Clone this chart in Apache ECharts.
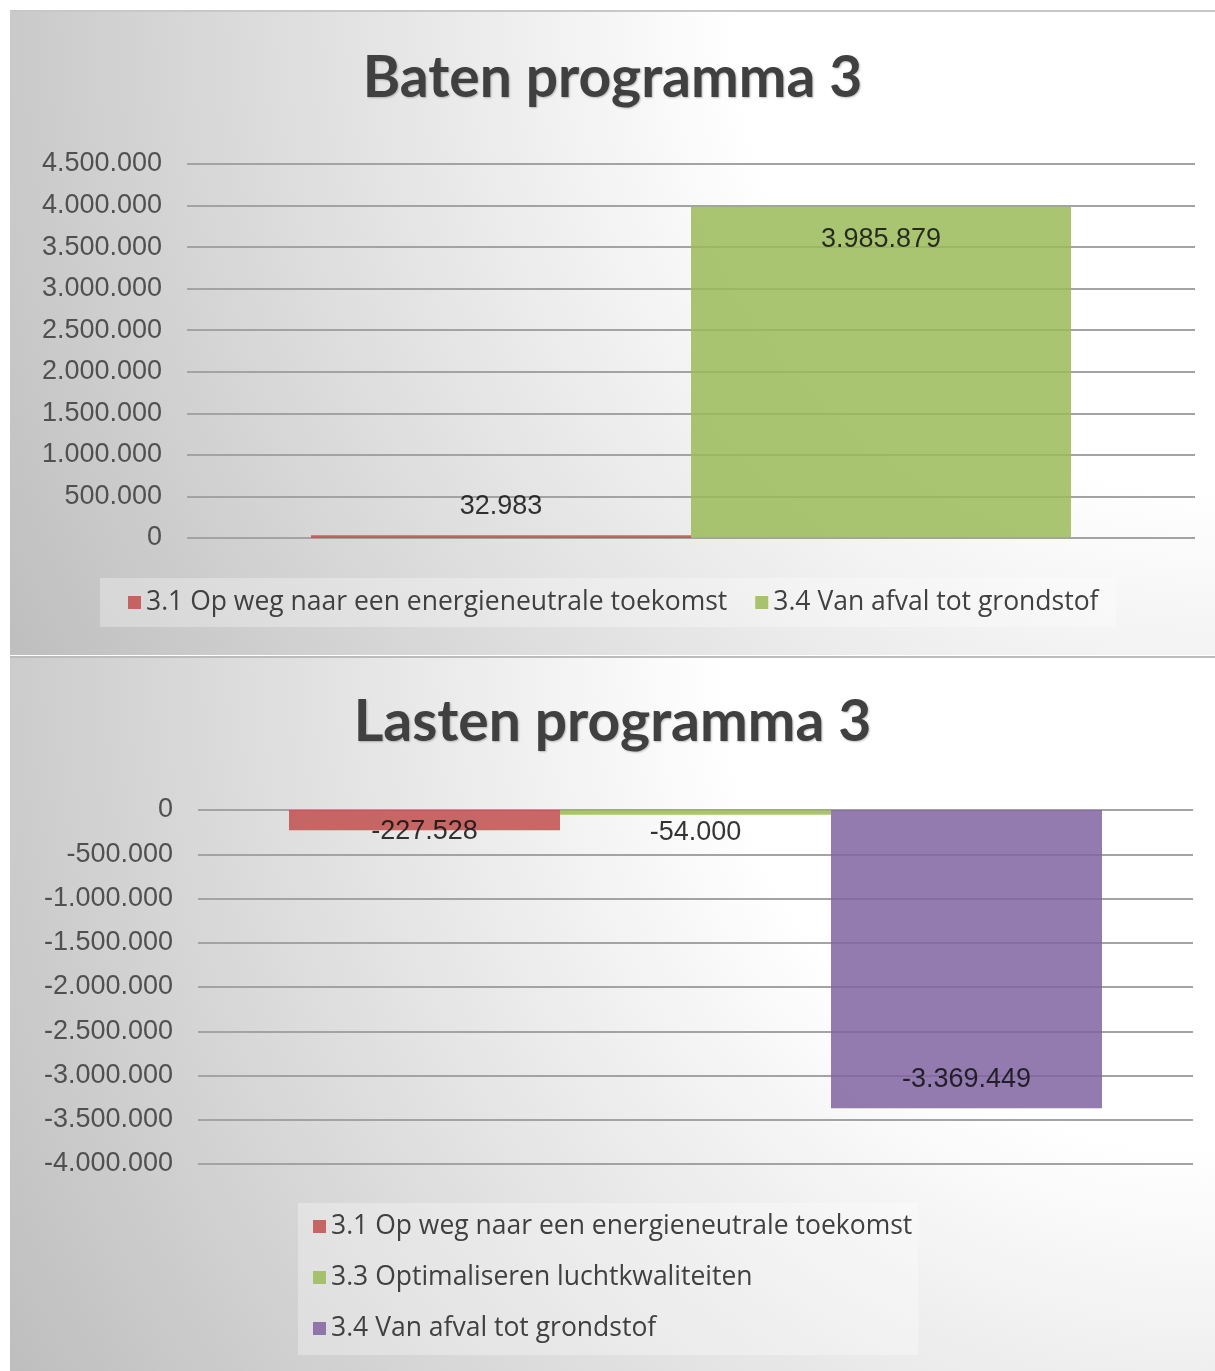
<!DOCTYPE html>
<html>
<head>
<meta charset="utf-8">
<script src="https://cdn.jsdelivr.net/npm/echarts@6/dist/echarts.min.js"></script>
<style>
  html, body { margin: 0; padding: 0; background: #fff; }
  .chart {
    position: absolute;
    left: 10px;
    width: 1205px;
    background: radial-gradient(circle farthest-corner at 100% 0%, #ffffff 0%, #ffffff 35%, #bebebe 100%);
  }
  #baten { top: 10px; height: 645px; border-top: 2px solid #c8c8c8; box-sizing: border-box; }
  #lasten { top: 656px; height: 715px; border-top: 2px solid #bcbcbc; box-sizing: border-box; }
</style>
</head>
<body>
<div id="baten" class="chart"></div>
<div id="lasten" class="chart"></div>
<script>
// Baten programma 3
const batenNames = ["3.1 Op weg naar een energieneutrale toekomst", "3.4 Van afval tot grondstof"];
const batenValues = [32983, 3985879];
const batenMin = 0, batenMax = 4500000;

// Lasten programma 3
const lastenNames = ["3.1 Op weg naar een energieneutrale toekomst", "3.3 Optimaliseren luchtkwaliteiten", "3.4 Van afval tot grondstof"];
const lastenValues = [-227528, -54000, -3369449];
const lastenMin = -4000000, lastenMax = 0;

const tickStep = 500000;

// excel 2010 palette, in series order
const palette = ["#C0504D", "#9BBB59", "#8064A2"];

function fmt(v) {
  return String(v).replace(/\B(?=(\d{3})+(?!\d))/g, ".");
}

const labelFont = "Liberation Sans, Arial, sans-serif";

function baseOption(title, titleTop, gridCfg, min, max) {
  return {
    backgroundColor: "transparent",
    animation: false,
    title: {
      text: title,
      left: "center",
      top: titleTop,
      textStyle: {
        fontFamily: "Lato",
        fontWeight: "bold",
        fontSize: 57,
        color: "#404040",
        textShadowColor: "rgba(0,0,0,0.25)",
        textShadowBlur: 2,
        textShadowOffsetX: 1,
        textShadowOffsetY: 1
      }
    },
    grid: gridCfg,
    xAxis: {
      type: "category",
      data: [""],
      axisLine: { show: false },
      axisTick: { show: false },
      axisLabel: { show: false }
    },
    yAxis: {
      type: "value",
      min: min,
      max: max,
      interval: tickStep,
      axisLine: { show: false },
      axisTick: { show: false },
      axisLabel: {
        margin: 25,
        formatter: fmt,
        fontFamily: labelFont,
        fontSize: 27,
        color: "#505050"
      },
      splitLine: { lineStyle: { color: "#a3a3a3", width: 2 } }
    }
  };
}

function makeSeries(names, values, barWidth, labels) {
  return names.map(function (n, i) {
    return {
      name: n,
      type: "bar",
      data: [values[i]],
      barWidth: barWidth,
      barGap: "0%",
      itemStyle: { color: palette[i], opacity: 0.85 },
      label: {
        show: true,
        position: labels[i].position,
        distance: labels[i].distance,
        formatter: function (p) { return fmt(p.value); },
        fontFamily: labelFont,
        fontSize: 27,
        color: "#111"
      }
    };
  });
}

const legendText = { fontFamily: "Open Sans", fontSize: 26.5, color: "#404040" };

// top chart
const batenChart = echarts.init(document.getElementById("baten"));
const optB = baseOption("Baten programma 3", 33, { left: 177, right: 20, top: 152, bottom: 117 }, batenMin, batenMax);
optB.legend = {
  data: batenNames,
  left: 90,
  top: 566,
  itemWidth: 13,
  itemHeight: 13,
  itemGap: 28,
  padding: [11, 18, 11, 28],
  backgroundColor: "rgba(255,255,255,0.3)",
  icon: "rect",
  textStyle: legendText
};
optB.series = makeSeries(batenNames, batenValues, 380, [
  { position: "outside", distance: 15 },
  { position: "insideTop", distance: 19 }
]);
batenChart.setOption(optB);

// bottom chart
const lastenChart = echarts.init(document.getElementById("lasten"));
const optL = baseOption("Lasten programma 3", 31, { left: 188, right: 22, top: 152, bottom: 207 }, lastenMin, lastenMax);
optL.legend = {
  data: lastenNames,
  orient: "vertical",
  left: 288,
  top: 545,
  itemWidth: 13,
  itemHeight: 13,
  itemGap: 24,
  padding: [10, 6, 13, 15],
  backgroundColor: "rgba(255,255,255,0.3)",
  icon: "rect",
  textStyle: legendText
};
optL.series = makeSeries(lastenNames, lastenValues, 271, [
  { position: "outside", distance: -12 },
  { position: "outside", distance: 4 },
  { position: "insideBottom", distance: 15 }
]);
lastenChart.setOption(optL);
</script>
</body>
</html>
